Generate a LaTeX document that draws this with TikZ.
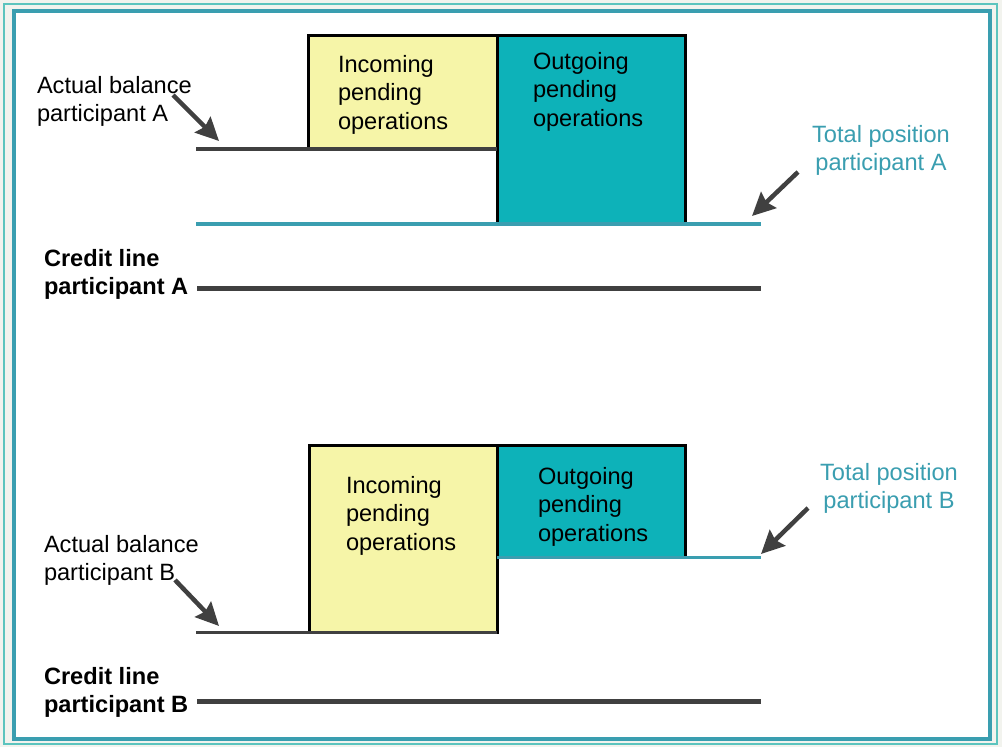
\documentclass[tikz,border=0pt]{standalone}
\usepackage{fontspec}
\setmainfont{Liberation Sans}
\usepackage{xcolor}
\usetikzlibrary{positioning,arrows.meta}

\definecolor{inyellow}{HTML}{F6F5A8}
\definecolor{outteal}{HTML}{0DB2B9}
\definecolor{posteal}{HTML}{3A9EB0}
\definecolor{frameteal}{HTML}{5CC4BE}
\definecolor{linegray}{HTML}{404040}
\definecolor{paper}{HTML}{F2F3EE}

\begin{document}
\begin{tikzpicture}[
  x=1pt, y=-1pt,
  every node/.style={font=\fontsize{23.6}{28.5}\selectfont, inner sep=0pt, outer sep=0pt},
  txt/.style={align=left, anchor=north west},
  postxt/.style={align=center, anchor=north, text=posteal},
  credtxt/.style={txt, font=\fontsize{23.6}{28.5}\selectfont\bfseries},
  inbox/.style={draw=black, line width=3pt, fill=inyellow, rectangle, anchor=north west},
  outbox/.style={draw=black, line width=3pt, fill=outteal, rectangle, anchor=north west},
  balline/.style={draw=linegray, line width=3.5pt},
  posline/.style={draw=posteal, line width=3.5pt},
  credline/.style={draw=linegray, line width=5pt},
  pointer/.style={draw=linegray, fill=linegray, line width=4.5pt, -{Stealth[length=23pt,width=22pt,inset=3pt]}}
    ]
\useasboundingbox (0,0) rectangle (1002,747);
\fill[paper] (0,0) rectangle (1002,747);
\draw[frameteal, line width=2pt] (4,4) rectangle (997,744);
\draw[posteal, line width=4pt, fill=white] (13.5,11) rectangle (990,739);

% participant A
\node[outbox, minimum width=188pt, minimum height=188.5pt] (outA) at (497,35.5) {};
\node[inbox, minimum width=189pt, minimum height=113pt] (inA) at (308,35.5) {};
\node[txt, below right=19.5pt and 30pt of inA.north west] (inAtxt) {Incoming\\pending\\operations};
\node[txt, below right=16.5pt and 36pt of outA.north west] (outAtxt) {Outgoing\\pending\\operations};

\coordinate (balA) at (196,149);
\coordinate (posA) at (196,224);
\coordinate (posAend) at (761,224);
\coordinate (credA) at (197,288);
\coordinate (credAend) at (761,288);
\draw[balline] (balA) -- (balA -| inA.south east);
\draw[posline] (posA) -- (posAend);
\draw[credline] (credA) -- (credAend);

\node[txt] (balAtxt) at (37,76) {Actual balance\\participant A};
\node[postxt] (posAtxt) at (881,125) {Total position\\participant A};
\node[credtxt] (credAtxt) at (44,249) {Credit line\\participant A};

\coordinate (balAfrom) at (173,95);
\coordinate (balAtip) at (219,141);
\coordinate (posAfrom) at (798,172);
\coordinate (posAtip) at (752,216);
\draw[pointer] (balAfrom) -- (balAtip);
\draw[pointer] (posAfrom) -- (posAtip);

% participant B
\node[inbox, minimum width=188pt, minimum height=187pt] (inB) at (309,445.5) {};
\node[outbox, minimum width=188pt, minimum height=112pt] (outB) at (497,445.5) {};
\node[txt, below right=30.5pt and 37pt of inB.north west] (inBtxt) {Incoming\\pending\\operations};
\node[txt, below right=21.5pt and 41pt of outB.north west] (outBtxt) {Outgoing\\pending\\operations};

\coordinate (balB) at (196,632.5);
\coordinate (posBend) at (761,557.5);
\coordinate (credB) at (197,701);
\coordinate (credBend) at (761,701);
\draw[balline] (balB) -- (balB -| inB.south east);
\draw[posline] (outB.south west) -- (posBend);
\draw[credline] (credB) -- (credBend);

\node[txt] (balBtxt) at (44,535) {Actual balance\\participant B};
\node[postxt] (posBtxt) at (889,463) {Total position\\participant B};
\node[credtxt] (credBtxt) at (44,667) {Credit line\\participant B};

\coordinate (balBfrom) at (175,580);
\coordinate (balBtip) at (219,626);
\coordinate (posBfrom) at (808,508);
\coordinate (posBtip) at (761,554);
\draw[pointer] (balBfrom) -- (balBtip);
\draw[pointer] (posBfrom) -- (posBtip);

\end{tikzpicture}
\end{document}
